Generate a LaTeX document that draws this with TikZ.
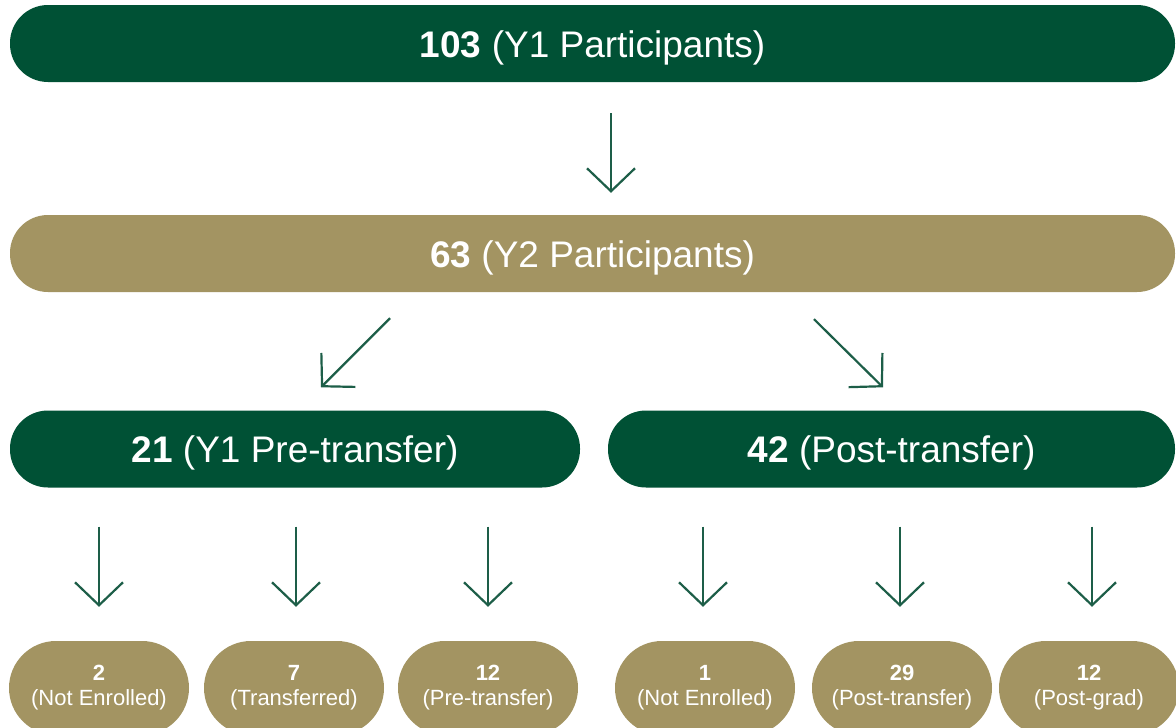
\documentclass[tikz,border=0pt]{standalone}
\usepackage{fontspec}
\setmainfont{Liberation Sans}
\usetikzlibrary{arrows.meta,calc}
\definecolor{usfgreen}{HTML}{005135}
\definecolor{usfgold}{HTML}{A39462}
\definecolor{arrowgreen}{HTML}{1D5E48}
\newcommand{\bartext}[2]{\raisebox{-13.5pt}[0pt][0pt]{\textbf{#1} (#2)}}
\tikzset{
  bar/.style={rectangle, rounded corners=38pt, minimum height=77pt, inner sep=0pt, text=white, font=\fontsize{37}{40}\selectfont},
  greenbar/.style={bar, fill=usfgreen},
  goldbar/.style={bar, fill=usfgold},
  pill/.style={rectangle, rounded corners=47pt, minimum width=180pt, minimum height=94pt, inner sep=0pt, fill=usfgold, text=white, align=center, font=\fontsize{22}{25}\selectfont},
  arr/.style={draw=arrowgreen, line width=2.2pt, -{Straight Barb[length=23pt,width=48pt,line width=2.2pt]}}
}
\begin{document}
\begin{tikzpicture}[x=1pt,y=-1pt]
\clip (0,0) rectangle (1176,728);
\fill[white] (0,0) rectangle (1176,728);
\node[greenbar, minimum width=1165pt] (top) at (592.5,43.5) {\bartext{103}{Y1 Participants}};
\node[goldbar, minimum width=1165pt] (y2) at (592.5,253.5) {\bartext{63}{Y2 Participants}};
\node[greenbar, minimum width=570pt] (pre) at (295,449) {\bartext{21}{Y1 Pre-transfer}};
\node[greenbar, minimum width=567pt] (post) at (891.5,449) {\bartext{42}{Post-transfer}};
\node[pill] (b1) at (99,688) {\textbf{2}\\(Not Enrolled)};
\node[pill] (b2) at (294,688) {\textbf{7}\\(Transferred)};
\node[pill] (b3) at (488,688) {\textbf{12}\\(Pre-transfer)};
\node[pill] (b4) at (705,688) {\textbf{1}\\(Not Enrolled)};
\node[pill] (b5) at (902,688) {\textbf{29}\\(Post-transfer)};
\node[pill] (b6) at (1089,688) {\textbf{12}\\(Post-grad)};
\draw[arr] ($(top.south)+(18.5,31)$) -- ($(y2.north)+(18.5,-22)$);
\draw[arr] ($(y2.south)+(-202.5,26)$) -- ($(pre.north)+(26,-23)$);
\draw[arr] ($(y2.south)+(221.5,27)$) -- ($(post.north)+(-8.5,-23)$);
\draw[arr] ($(pre.south -| b1.north)+(0,39)$) -- ($(b1.north)+(0,-34)$);
\draw[arr] ($(pre.south -| b2.north)+(2,39)$) -- ($(b2.north)+(2,-34)$);
\draw[arr] ($(pre.south -| b3.north)+(0,39)$) -- ($(b3.north)+(0,-34)$);
\draw[arr] ($(post.south -| b4.north)+(-2,39)$) -- ($(b4.north)+(-2,-34)$);
\draw[arr] ($(post.south -| b5.north)+(-2,39)$) -- ($(b5.north)+(-2,-34)$);
\draw[arr] ($(post.south -| b6.north)+(3,39)$) -- ($(b6.north)+(3,-34)$);
\end{tikzpicture}
\end{document}
